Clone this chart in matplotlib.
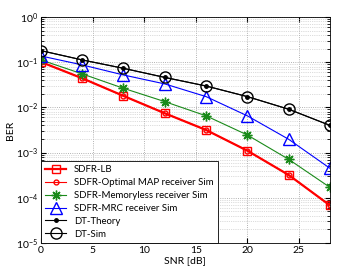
import matplotlib
matplotlib.use('Agg')
import matplotlib.pyplot as plt

plt.rcParams['font.family'] = ['Lato', 'DejaVu Sans']
plt.rcParams['mathtext.fontset'] = 'custom'
plt.rcParams['mathtext.rm'] = 'Lato'

snr = [0, 4, 8, 12, 16, 20, 24, 28]
ber_lb = [0.101, 0.044, 0.0179, 0.0074, 0.00316, 0.0011, 3.2e-4, 6.8e-5]
ber_map = [0.101, 0.044, 0.0179, 0.0074, 0.00316, 0.0011, 3.2e-4, 6.8e-5]
ber_mem = [0.112, 0.055, 0.0264, 0.0134, 0.0065, 0.00245, 7.1e-4, 1.7e-4]
ber_mrc = [0.137, 0.087, 0.052, 0.033, 0.0173, 0.0065, 0.00197, 4.5e-4]
ber_dt_theory = [0.18, 0.112, 0.073, 0.046, 0.0297, 0.0173, 0.0091, 0.0040]
ber_dt_sim = [0.18, 0.112, 0.073, 0.046, 0.0297, 0.0173, 0.0091, 0.0040]

fig = plt.figure(figsize=(3.44, 2.78), dpi=100)
ax = fig.add_axes([0.119, 0.126, 0.840, 0.813])

ax.semilogy(snr, ber_lb, 'rs-', lw=1.6, ms=6, mfc='none', label='SDFR-LB')
ax.semilogy(snr, ber_map, 'ro-', lw=0.8, ms=3.5, mfc='none', label='SDFR-Optimal MAP receiver Sim')
ax.semilogy(snr, ber_mem, '-', marker=(8, 2, 0), color='#1a8a1a', lw=0.8, ms=7, mew=1.0,
            label='SDFR-Memoryless receiver Sim')
ax.semilogy(snr, ber_mrc, '^-', color='blue', lw=0.8, ms=8, mfc='none', label='SDFR-MRC receiver Sim')
ax.semilogy(snr, ber_dt_theory, 'k.-', lw=0.8, ms=5, label='DT-Theory')
ax.semilogy(snr, ber_dt_sim, 'ko-', lw=0.8, ms=8, mfc='none', label='DT-Sim')

ax.set_xlim(0, 28)
ax.set_ylim(1e-5, 1)
ax.set_xticks([0, 5, 10, 15, 20, 25])
ax.grid(True, which='major', ls=':', color='#999999', lw=0.6)
ax.grid(True, which='minor', ls=':', color='#bbbbbb', lw=0.5)
ax.tick_params(which='both', direction='in', top=True, right=True, labelsize=7.5, pad=2)
ax.set_xlabel('SNR [dB]', fontsize=7.5, labelpad=1)
ax.set_ylabel('BER', fontsize=7.5, labelpad=1)
for s in ax.spines.values():
    s.set_linewidth(0.6)

leg = ax.legend(loc='lower left', fontsize=6.9, fancybox=False, framealpha=1,
                edgecolor='black', borderaxespad=0, handlelength=2.2,
                labelspacing=0.4, borderpad=0.45)
leg.get_frame().set_linewidth(0.6)

fig.savefig('out.png', dpi=100)
